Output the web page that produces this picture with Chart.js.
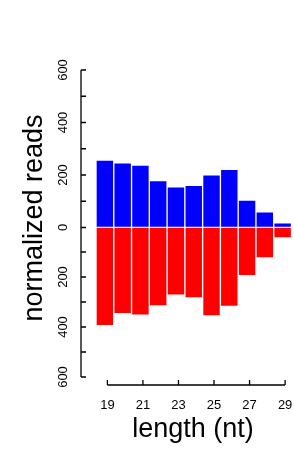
<!DOCTYPE html>
<html>
<head>
<meta charset="utf-8">
<script src="https://cdn.jsdelivr.net/npm/chart.js@4"></script>
<style>
  body { margin: 0; background: #fff; }
  canvas { display: block; }
</style>
</head>
<body>
<canvas id="myChart" width="294" height="451"></canvas>
<script>
// read lengths (nt)
const lengths = ["19", "20", "21", "22", "23", "24", "25", "26", "27", "28", "29"];
// normalized reads, sense (up) and antisense (down, negative)
const senseReads = [257, 246, 238, 179, 155, 161, 201, 222, 104, 60, 18];
const antisenseReads = [-395, -347, -353, -316, -273, -284, -356, -318, -195, -124, -44];
// axis ticks
const yTickValues = [0, 100, 200, 300, 400, 500, 600];
const yTickLabels = [0, 200, 400, 600];
const xTickLabels = ["19", "21", "23", "25", "27", "29"];

const FONT = "'Liberation Sans', Arial, sans-serif";

// R-style axes drawn from the chart's own scales
const rAxes = {
    id: 'rAxes',
    afterDraw(chart) {
        const ctx = chart.ctx;
        const x = chart.scales.x;
        const yTop = chart.scales.yTop;
        const yBot = chart.scales.yBot;
        const axisX = 81;
        const axisY = 385;
        ctx.save();
        ctx.strokeStyle = '#000';
        ctx.fillStyle = '#000';
        ctx.lineWidth = 1.3;

        // y axis line + ticks (ticks point inward)
        ctx.beginPath();
        ctx.moveTo(axisX, yTop.getPixelForValue(600));
        ctx.lineTo(axisX, yBot.getPixelForValue(-600));
        yTickValues.forEach(v => {
            let p = yTop.getPixelForValue(v);
            ctx.moveTo(axisX, p); ctx.lineTo(axisX + 5, p);
            if (v > 0) {
                p = yBot.getPixelForValue(-v);
                ctx.moveTo(axisX, p); ctx.lineTo(axisX + 5, p);
            }
        });
        ctx.stroke();

        // y tick labels, rotated
        ctx.font = '13px ' + FONT;
        ctx.textAlign = 'center';
        ctx.textBaseline = 'alphabetic';
        yTickLabels.forEach(v => {
            let ps = [yTop.getPixelForValue(v)];
            if (v > 0) ps.push(yBot.getPixelForValue(-v));
            ps.forEach(p => {
                ctx.save();
                ctx.translate(67, p);
                ctx.rotate(-Math.PI / 2);
                ctx.fillText(String(v), 0, 0);
                ctx.restore();
            });
        });

        // x axis line + ticks
        const first = x.getPixelForValue(lengths.indexOf(xTickLabels[0])) + 2.5;
        const last = x.getPixelForValue(lengths.indexOf(xTickLabels[xTickLabels.length - 1])) + 2.5;
        ctx.beginPath();
        ctx.moveTo(first, axisY);
        ctx.lineTo(last, axisY);
        xTickLabels.forEach(l => {
            const p = x.getPixelForValue(lengths.indexOf(l)) + 2.5;
            ctx.moveTo(p, axisY); ctx.lineTo(p, axisY - 5);
        });
        ctx.stroke();
        xTickLabels.forEach(l => {
            const p = x.getPixelForValue(lengths.indexOf(l)) + 2.5;
            ctx.fillText(l, p, 409);
        });

        // axis titles
        ctx.font = '27px ' + FONT;
        ctx.fillText('length (nt)', 193, 437);
        ctx.save();
        ctx.translate(42, 218);
        ctx.rotate(-Math.PI / 2);
        ctx.fillText('normalized reads', 0, 0);
        ctx.restore();

        ctx.restore();
    }
};

const ctx = document.getElementById('myChart').getContext('2d');
const myChart = new Chart(ctx, {
    type: 'bar',
    data: {
        labels: lengths,
        datasets: [{
            label: 'sense',
            data: senseReads,
            yAxisID: 'yTop',
            backgroundColor: '#0000ff',
            borderColor: 'rgba(255,255,255,0.45)',
            borderWidth: 1,
            borderSkipped: false,
            grouped: false,
            barPercentage: 1,
            categoryPercentage: 1
        }, {
            label: 'antisense',
            data: antisenseReads,
            yAxisID: 'yBot',
            backgroundColor: '#ff0000',
            borderColor: 'rgba(255,255,255,0.45)',
            borderWidth: 1,
            borderSkipped: false,
            grouped: false,
            barPercentage: 1,
            categoryPercentage: 1
        }]
    },
    options: {
        responsive: false,
        animation: false,
        layout: {
            padding: { left: 96, right: 2.5, top: 70, bottom: 74 }
        },
        plugins: {
            legend: { display: false },
            tooltip: { enabled: false }
        },
        scales: {
            x: { display: false, offset: true },
            // upper panel: 0..600 over 70..227px
            yTop: { display: false, min: -569.5, max: 600 },
            // lower panel: 0..600 over 227..377px
            yBot: { display: false, min: -600, max: 628 }
        }
    },
    plugins: [rAxes]
});
</script>
</body>
</html>
